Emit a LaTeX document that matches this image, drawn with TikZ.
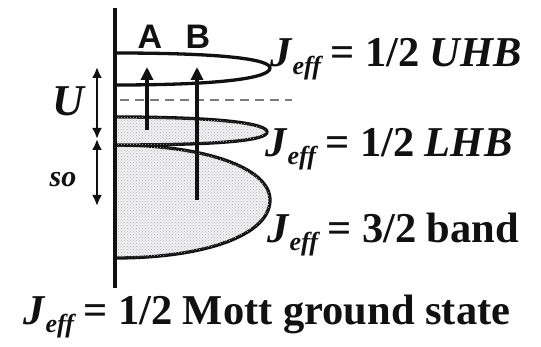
\documentclass[tikz,border=0pt]{standalone}
\usepackage{fontspec}
\setmainfont{Liberation Serif}
\newfontfamily\labfont{Liberation Sans}
\usetikzlibrary{arrows.meta,positioning,patterns}
\definecolor{Ink}{HTML}{111111}
\definecolor{Dots}{HTML}{F0F0F2}
\newcommand{\Jeff}{\textit{J}\raisebox{-0.4ex}{\fontsize{26}{26}\selectfont\textit{eff}}\,= }

\begin{document}
\begin{tikzpicture}[x=1pt, y=-1pt, line join=round,
    band/.style={draw=Ink, line width=3.3pt},
    bandfill/.style={band, fill=Dots, postaction={pattern=crosshatch dots, pattern color=gray!55}},
    bigtext/.style={font=\fontsize{42.5}{46}\selectfont\bfseries, inner sep=0pt, anchor=base west, text=Ink},
    ablab/.style={font=\labfont\fontsize{34}{36}\selectfont\bfseries, inner sep=0pt, text=Ink},
    excite/.style={draw=Ink, line width=3.4pt, -{Triangle[length=13pt, width=12pt]}},
    gap/.style={draw=Ink, line width=2.4pt, {Latex[length=11pt, width=10pt]}-{Latex[length=11pt, width=10pt]}}]
  \useasboundingbox[fill=white] (0,0) rectangle (541,347);
  % bands
  \draw[bandfill] (115,145) .. controls (205,145) and (270,168) .. (270,200)
                  .. controls (270,235) and (205,258) .. (115,258);
  \draw[bandfill] (115,117) .. controls (225,117) and (267,124) .. (267,132)
                  .. controls (267,140) and (225,145) .. (115,145);
  \draw[band] (115,53) .. controls (230,53) and (270,60) .. (270,68)
              .. controls (270,77) and (230,85) .. (115,85);
  \draw[Ink!55, line width=2.2pt, dash pattern=on 9pt off 6pt] (120,100) -- (292,100);
  \draw[Ink, line width=3.5pt] (115,8) -- (115,288);
  % labels
  \node[ablab] (labA) at (150,37) {A};
  \node[ablab] (labB) at (198,37) {B};
  \node[bigtext] (uhb) at (270,67) {\Jeff 1/2 \textit{UHB}};
  \node[bigtext] (lhb) at (265,157) {\Jeff 1/2 \textit{LHB}};
  \node[bigtext] (band) at (267,243) {\Jeff 3/2 band};
  \node[bigtext] (mott) at (23,325) {\Jeff 1/2 Mott ground state};
  \node[font=\fontsize{44}{48}\selectfont\bfseries\itshape, text=Ink] (labU) at (68,101) {U};
  \node[font=\fontsize{30}{32}\selectfont\bfseries\itshape, text=Ink] (labSO) at (63,180) {so};
  % excitations and gaps
  \coordinate (aLow) at (147,130);
  \coordinate (bLow) at (197,200);
  \coordinate (aTop) at (147,67);
  \coordinate (bTop) at (197,67);
  \draw[excite] (aLow) -- (aTop);
  \draw[excite] (bLow) -- (bTop);
  \coordinate (uTop) at (97,67);
  \coordinate (mid) at (97,139);
  \coordinate (soLow) at (97,206);
  \draw[gap] (uTop) -- (mid);
  \draw[gap] (mid) -- (soLow);
\end{tikzpicture}
\end{document}
